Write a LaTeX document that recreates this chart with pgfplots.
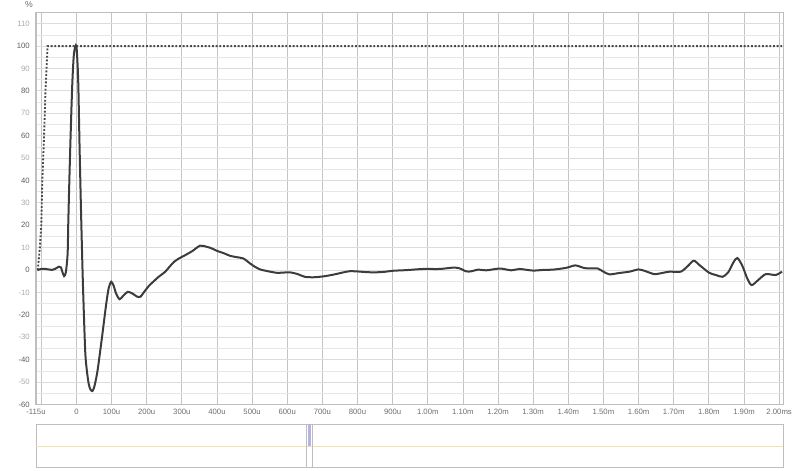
\documentclass[border=0pt]{standalone}
\usepackage{pgfplots}
\pgfplotsset{compat=1.18}
\usepackage{fontspec}
\setmainfont{Liberation Sans}
\definecolor{gridv}{HTML}{C4C4C4}
\definecolor{gridh}{HTML}{DCDCDC}
\definecolor{gridm}{HTML}{E6E6E6}
\definecolor{frame}{HTML}{BEBEBE}
\definecolor{curve}{HTML}{3C3C3C}
\definecolor{dotcol}{HTML}{4A4A4A}
\definecolor{ydark}{HTML}{5E5E5E}
\definecolor{ylight}{HTML}{A8A8A8}
\definecolor{xlab}{HTML}{6E6E6E}
\definecolor{ovyellow}{HTML}{EFE3B0}
\definecolor{ovlav}{HTML}{B4B4E2}
\pgfplotstableread{
x y
-111 0
-100 0.5
-90 0.6
-80 0.3
-70 0.1
-60 0.6
-50 1.5
-44 1.2
-40 -0.8
-35 -2.7
-30 -1
-25 7.4
-23 22
-18 52
-12 82
-7 96.5
0 100
5 85
9 55
13.5 24
18.5 -6
25 -36
29.5 -44.5
35 -50.8
40 -53.3
45.5 -54
50.5 -52.3
56 -48.5
61 -44
73 -29.8
85 -14.9
92 -8
99 -5.2
106 -7
113 -10.5
123 -13
133 -11.5
146 -9.7
160 -10.5
172 -11.8
182 -11.9
194 -9.5
206 -7.1
220 -5
234 -3
253 -0.7
265 1.5
278 3.7
292 5.2
310 6.7
330 8.5
352 10.9
371 10.4
385 9.7
400 8.6
420 7.5
437 6.4
455 5.8
475 5.2
494 3
508 1.5
523 0.3
545 -0.5
570 -1.2
590 -1.1
608 -1
630 -1.8
650 -3
675 -3.2
703 -2.8
722 -2.3
741 -1.7
760 -1
778 -0.5
800 -0.6
825 -0.9
849 -1.0
875 -0.8
901 -0.3
940 0
987 0.5
1034 0.5
1072 1.1
1090 0.8
1110 -0.6
1125 -0.5
1143 0.2
1167 -0.1
1205 0.7
1238 -0.1
1261 0.5
1299 -0.2
1330 0.1
1356 0.2
1394 1.0
1420 2.1
1446 0.9
1470 0.8
1484 0.7
1500 -0.7
1517 -1.9
1545 -1.3
1574 -0.7
1600 0.3
1620 -0.5
1645 -1.8
1670 -1.2
1688 -0.7
1720 -0.7
1740 1.8
1757 4.2
1775 2
1801 -1.2
1820 -2.2
1839 -3
1855 -1
1870 3.5
1881 5.4
1895 2
1910 -4
1922 -6.7
1940 -4.5
1962 -1.8
1990 -2.2
2008 -0.7
}\impulse
\pgfplotstableread{
x y
-110 0
-104 10
-100 20
-97 40
-92 60
-88 80
-82 100
2011 100
}\step
\begin{document}
\begin{tikzpicture}
\useasboundingbox (0pt,0pt) rectangle (600pt,353.25pt);
\begin{axis}[
  at={(27pt,49.875pt)}, anchor=south west,
  scale only axis, width=560.25pt, height=294pt,
  xmin=-115, xmax=2011, ymin=-60, ymax=115,
  axis line style={draw=frame, line width=0.5pt},
  major tick length=0pt, minor tick length=0pt,
  xtick={-100,0,100,...,2000},
  xticklabels={{},0,100u,200u,300u,400u,500u,600u,700u,800u,900u,1.00m,1.10m,1.20m,1.30m,1.40m,1.50m,1.60m,1.70m,1.80m,1.90m,2.00ms},
  extra x ticks={-115}, extra x tick labels={-115u},
  extra x tick style={grid=none},
  ytick={-60,-40,...,100},
  yticklabels={-60,-40,-20,0,20,40,60,80,100},
  extra y ticks={-50,-30,-10,10,30,50,70,90,110},
  extra y tick labels={-50,-30,-10,10,30,50,70,90,110},
  extra y tick style={yticklabel style={text=ylight}, grid=major},
  minor ytick={-55,-45,...,105},
  grid=both,
  major x grid style={draw=gridv, line width=0.6pt},
  major y grid style={draw=gridh, line width=0.6pt},
  minor y grid style={draw=gridm, line width=0.5pt},
  xticklabel style={font=\fontsize{5.8}{6.5}\selectfont, text=xlab, inner sep=0pt, yshift=-3pt},
  yticklabel style={font=\fontsize{5.8}{6.5}\selectfont, text=ydark, inner sep=0pt, xshift=-4.5pt},
  clip=false,
]
\addplot[dotcol, line width=1.4pt, dash pattern=on 1.4pt off 1.35pt] table[x=x,y=y] {\step};
\addplot[curve, line width=1.5pt, smooth, tension=0.45] table[x=x,y=y] {\impulse};
\draw[frame, line width=1.4pt] (rel axis cs:0,1) -- (rel axis cs:0,0) -- (rel axis cs:1,0);
\end{axis}
\node[text=xlab, font=\fontsize{6.5}{7}\selectfont] at (21.75pt,349.5pt) {\%};
\begin{axis}[
  at={(27pt,3pt)}, anchor=south west,
  scale only axis, width=560.25pt, height=32.25pt,
  xmin=0, xmax=1, ymin=0, ymax=1,
  xtick=\empty, ytick=\empty,
  axis line style={draw=frame, line width=0.6pt},
]
\addplot[ovyellow, line width=0.8pt] coordinates {(0,0.48) (1,0.48)};
\addplot[frame, line width=0.6pt] coordinates {(0.3624,0) (0.3624,1)};
\addplot[frame, line width=0.6pt] coordinates {(0.3699,0) (0.3699,1)};
\addplot[ovlav, line width=2pt] coordinates {(0.3663,0.48) (0.3663,1)};
\end{axis}
\end{tikzpicture}
\end{document}
